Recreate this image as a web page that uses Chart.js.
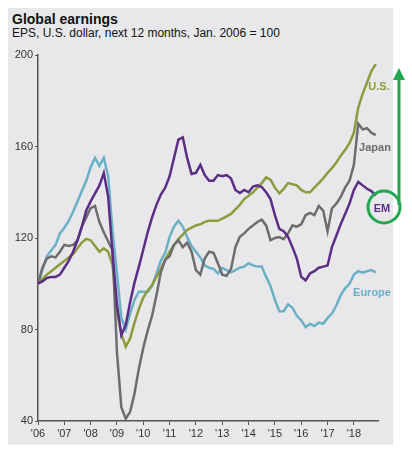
<!DOCTYPE html>
<html>
<head>
  <meta charset="utf-8">
  <script src="https://cdn.jsdelivr.net/npm/chart.js@4.4.1/dist/chart.umd.min.js"></script>
  <style>
    body { margin: 0; background: #fff; font-family: "Liberation Sans", Arial, sans-serif; }
    #panel { position: absolute; left: 8px; top: 8px; width: 385px; height: 437px; background: #e8e8ea; }
    #title { position: absolute; left: 12px; top: 11px; font-size: 14px; font-weight: bold; color: #111; }
    #sub { position: absolute; left: 12px; top: 26px; font-size: 12px; color: #111; }
    #graph { position: absolute; left: 0; top: 0; }
  </style>
</head>
<body>
  <div id="panel"></div>
  <div id="title">Global earnings</div>
  <div id="sub">EPS, U.S. dollar, next 12 months, Jan. 2006 = 100</div>
  <canvas id="graph" width="412" height="454"></canvas>

  <script>
    // months since Jan. 2006, every second month
    var months = Array.from({ length: 78 }, (_, i) => i * 2);
    var yearTicks = ["'06", "'07", "'08", "'09", "'10", "'11", "'12", "'13", "'14", "'15", "'16", "'17", "'18"];

    var us = [100, 102, 104, 105.5, 107, 108.5, 110, 111.5, 113, 115.5,
      118, 119.6, 119, 116.5, 114, 115.5, 114, 108, 88, 78,
      72.5, 76, 83, 89, 94, 97, 99.5, 103, 106.5, 110.5,
      114, 117, 119.5, 121.5, 123.5, 124.5, 125.5, 126, 127, 127.5,
      127.5, 127.5, 128.5, 129.5, 130.5, 132.5, 134.5, 137, 138.5, 140,
      142, 144, 146.5, 145.5, 142, 139.5, 141.5, 144, 143.5, 143,
      141, 140, 140, 142, 144, 146, 148.5, 150.5, 153, 156,
      158.5, 161.5, 166, 177, 183, 188, 193, 196];

    var em = [100, 101, 102.5, 103, 103, 104, 107, 110, 114, 119,
      125, 132, 136, 139.5, 143, 148.4, 138, 113, 91, 77.5,
      82, 92, 100.5, 107.5, 115, 122.5, 129, 134.5, 139, 142,
      147, 155, 163, 164, 155, 148, 148.5, 152, 147.5, 145,
      145, 147.5, 147, 147.5, 146, 141, 139.7, 141, 140, 142.5,
      143, 142.3, 140, 137, 130, 124, 123, 120.5, 116, 111,
      103, 101.5, 104.5, 105.5, 107, 107.5, 108, 116, 121, 126,
      130.5, 135, 141, 144.5, 143, 141.5, 140.5, 138.5];

    var japan = [100, 107, 111, 112, 111.5, 114, 117, 116.5, 117, 119,
      125, 129, 133, 134, 127, 122.5, 118.5, 114.5, 70, 46,
      41, 44, 52, 63, 72, 79.5, 86, 95, 105, 110.5,
      112, 117, 119, 116, 118, 114, 106, 104, 111, 114,
      113.5, 109, 104, 103.5, 106.5, 116, 120.5, 122, 124, 125.5,
      127, 128, 125.5, 119, 120, 120.4, 119.5, 122, 125.5, 125,
      126, 130, 131, 130, 134, 132, 123, 133, 135, 138,
      142, 145, 152, 170, 167.5, 168, 166, 165];

    var europe = [100, 106, 112, 114.5, 117, 122, 124.5, 127.5, 131.5, 136,
      140.5, 145, 151, 155, 151.5, 155, 147, 123, 104.5, 85,
      80, 87, 93, 96.5, 96.5, 96.5, 99, 104.5, 110, 113.5,
      120.5, 125, 127.5, 125, 120.4, 116.5, 114, 111.5, 108, 107,
      106.5, 104.5, 107, 106, 105, 106, 107, 107.5, 109, 108,
      107.5, 107.5, 103, 99, 93, 88, 88, 91, 89.5, 86,
      84, 81, 82.5, 81.5, 83, 82.5, 85, 87, 90.5, 95,
      98, 100, 104, 105.5, 104.8, 105.5, 106, 105];

    var seriesNames = ['EM', 'Japan', 'U.S.', 'Europe'];
    var seriesColors = ['#5b2d87', '#6d6d6f', '#8e9a3c', '#6ab1c8'];
    var seriesValues = [em, japan, us, europe];
    var labelPos = [[382, 209], [375, 148], [379, 87], [372, 293]];

    function toPoints(vals) {
      return vals.map((v, i) => ({ x: 2006 + months[i] / 12, y: v }));
    }

    var datasets = seriesNames.map((n, i) => ({
      label: n,
      data: toPoints(seriesValues[i]),
      borderColor: seriesColors[i],
      borderWidth: 2.5,
      pointRadius: 0,
      tension: 0,
      fill: false
    }));

    var notes = {
      id: 'notes',
      afterDraw(chart) {
        var c = chart.ctx;
        c.save();
        c.font = 'bold 11px "Liberation Sans", Arial, sans-serif';
        c.textAlign = 'center';
        c.textBaseline = 'middle';
        for (var i = 0; i < seriesNames.length; i++) {
          c.fillStyle = seriesColors[i];
          c.fillText(seriesNames[i], labelPos[i][0], labelPos[i][1]);
        }
        // green circle round EM + arrow
        c.strokeStyle = '#22a64f';
        c.lineWidth = 3;
        c.beginPath();
        c.arc(384, 207, 16, 0, Math.PI * 2);
        c.stroke();
        c.beginPath();
        c.moveTo(399, 205);
        c.lineTo(399, 78);
        c.stroke();
        c.fillStyle = '#22a64f';
        c.beginPath();
        c.moveTo(399, 68);
        c.lineTo(405, 80);
        c.lineTo(393, 80);
        c.closePath();
        c.fill();
        c.restore();
      }
    };

    var tickFont = { family: '"Liberation Sans", Arial, sans-serif', size: 11 };

    new Chart(document.getElementById('graph'), {
      type: 'line',
      data: { datasets: datasets },
      options: {
        responsive: false,
        animation: false,
        layout: { padding: { top: 55, right: 34, bottom: 9, left: 0 } },
        plugins: { legend: { display: false }, tooltip: { enabled: false } },
        scales: {
          x: {
            type: 'linear',
            min: 2006,
            max: 2006 + 155 / 12,
            afterFit: (s) => { s.height = 24; },
            afterBuildTicks: (s) => { s.ticks = s.ticks.filter(t => Number.isInteger(t.value)); },
            ticks: {
              stepSize: 1,
              includeBounds: false,
              autoSkip: false,
              maxRotation: 0,
              padding: 2,
              color: '#333',
              font: tickFont,
              callback: (v) => yearTicks[v - 2006]
            },
            grid: { drawOnChartArea: false, drawTicks: true, tickLength: 4, color: '#555' },
            border: { display: true, color: '#555', width: 1.5 }
          },
          y: {
            min: 40,
            max: 200,
            afterFit: (s) => { s.width = 38; },
            ticks: { stepSize: 40, padding: 2, color: '#333', font: tickFont },
            grid: { drawOnChartArea: false, drawTicks: true, tickLength: 3, color: '#555' },
            border: { display: true, color: '#555', width: 1.5 }
          }
        }
      },
      plugins: [notes]
    });
  </script>
</body>
</html>
